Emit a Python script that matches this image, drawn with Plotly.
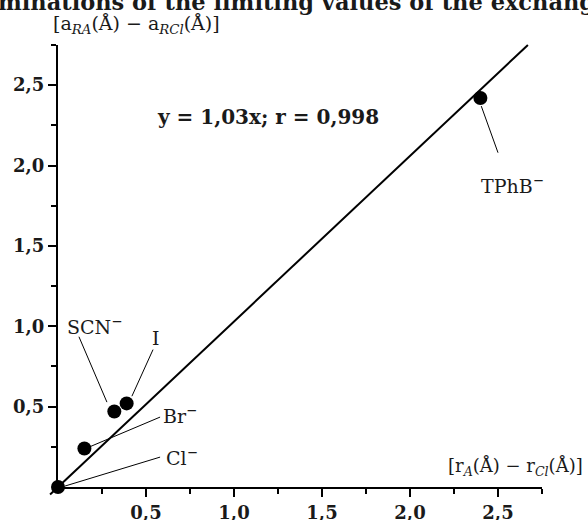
import plotly.graph_objects as go

# ---- data ----
ions = ["Cl<sup>−</sup>", "Br<sup>−</sup>", "SCN<sup>−</sup>", "I", "TPhB<sup>−</sup>"]
dr = [0.0, 0.15, 0.32, 0.39, 2.40]      # r_A - r_Cl (Å)
da = [0.0, 0.24, 0.47, 0.52, 2.42]      # a_RA - a_RCl (Å)
slope = 1.03
corr = 0.998
tick_vals = [0.5, 1.0, 1.5, 2.0, 2.5]
minor_vals = [0.25, 0.75, 1.25, 1.75, 2.25, 2.75]

# ---- layout constants ----
XR = [0, 2.75]
YR = [0, 2.75]
FONT = "DejaVu Serif"

# label text position (data units) and leader line (from near point -> near label)
label_layout = [
    dict(tx=0.60, ty=0.185, xa="left", lead=((0.04, 0.006), (0.58, 0.186))),
    dict(tx=0.585, ty=0.45, xa="left", lead=((0.18, 0.25), (0.58, 0.435))),
    dict(tx=0.21, ty=1.0, xa="center", lead=((0.278, 0.528), (0.119, 0.935))),
    dict(tx=0.555, ty=0.925, xa="center", lead=((0.42, 0.565), (0.54, 0.855))),
    dict(tx=2.585, ty=1.88, xa="center", lead=((2.405, 2.37), (2.50, 2.08))),
]

fig = go.Figure()

fig.add_trace(go.Scatter(
    x=dr, y=da, mode="markers",
    marker=dict(size=14, color="black"),
    cliponaxis=False, showlegend=False, hoverinfo="skip"))

def px(v):
    return (v - XR[0]) / (XR[1] - XR[0])

def py(v):
    return (v - YR[0]) / (YR[1] - YR[0])

# regression line y = slope*x, slightly extended below the origin
x_start = -0.045
x_end = YR[1] / slope
shapes = [dict(type="line", xref="paper", yref="paper",
               x0=px(x_start), y0=py(slope * x_start),
               x1=px(x_end), y1=py(slope * x_end),
               line=dict(color="black", width=2))]

annotations = []
for name, lay in zip(ions, label_layout):
    (x0, y0), (x1, y1) = lay["lead"]
    shapes.append(dict(type="line", xref="x", yref="y", x0=x0, y0=y0, x1=x1, y1=y1,
                       line=dict(color="black", width=1)))
    annotations.append(dict(x=lay["tx"], y=lay["ty"], xref="x", yref="y", text=name,
                            showarrow=False, xanchor=lay["xa"], yanchor="middle",
                            font=dict(family=FONT, size=19, color="#1a1a1a")))

eq = "y = {:.2f}x; r = {:.3f}".format(slope, corr).replace(".", ",")
annotations.append(dict(x=0.55, y=2.30, xref="x", yref="y", text=eq, showarrow=False,
                        xanchor="left", yanchor="middle",
                        font=dict(family=FONT, size=20, color="#1a1a1a", weight="bold")))

annotations.append(dict(x=-0.0145, y=1.0475, xref="paper", yref="paper",
                        text="[a<sub><i>RA</i></sub>(Å) − a<sub><i>RCl</i></sub>(Å)]",
                        showarrow=False, xanchor="left", yanchor="middle",
                        font=dict(family=FONT, size=19, color="#1a1a1a")))
annotations.append(dict(x=1.089, y=0.045, xref="paper", yref="paper",
                        text="[r<sub><i>A</i></sub>(Å) − r<sub><i>Cl</i></sub>(Å)]",
                        showarrow=False, xanchor="right", yanchor="middle",
                        font=dict(family=FONT, size=18, color="#1a1a1a")))
annotations.append(dict(x=-0.128, y=1.097, xref="paper", yref="paper",
                        text="minations of the limiting values of the exchang",
                        showarrow=False, xanchor="left", yanchor="middle",
                        font=dict(family=FONT, size=22.5, color="#1a1a1a", weight="bold")))

axis_common = dict(
    showline=True, linecolor="black", linewidth=2, mirror=False,
    showgrid=False, zeroline=False, automargin=False,
    ticks="outside", ticklen=8, tickwidth=1.5, tickcolor="black",
    tickvals=tick_vals, tickformat=".1f",
    tickfont=dict(family=FONT, size=18, color="#1a1a1a", weight="bold"),
    minor=dict(tickvals=minor_vals, ticks="outside", ticklen=5, tickwidth=1.5, tickcolor="black"),
)

fig.update_layout(
    width=588, height=520, autosize=False,
    margin=dict(l=58, r=46, t=45, b=33, autoexpand=False),
    paper_bgcolor="white", plot_bgcolor="white",
    separators=",.",
    xaxis=dict(range=XR, **axis_common),
    yaxis=dict(range=YR, **axis_common),
    shapes=shapes, annotations=annotations,
    showlegend=False,
)

fig.write_html("out.html", config={"displayModeBar": False},
               post_script="document.body.style.margin='0';")
